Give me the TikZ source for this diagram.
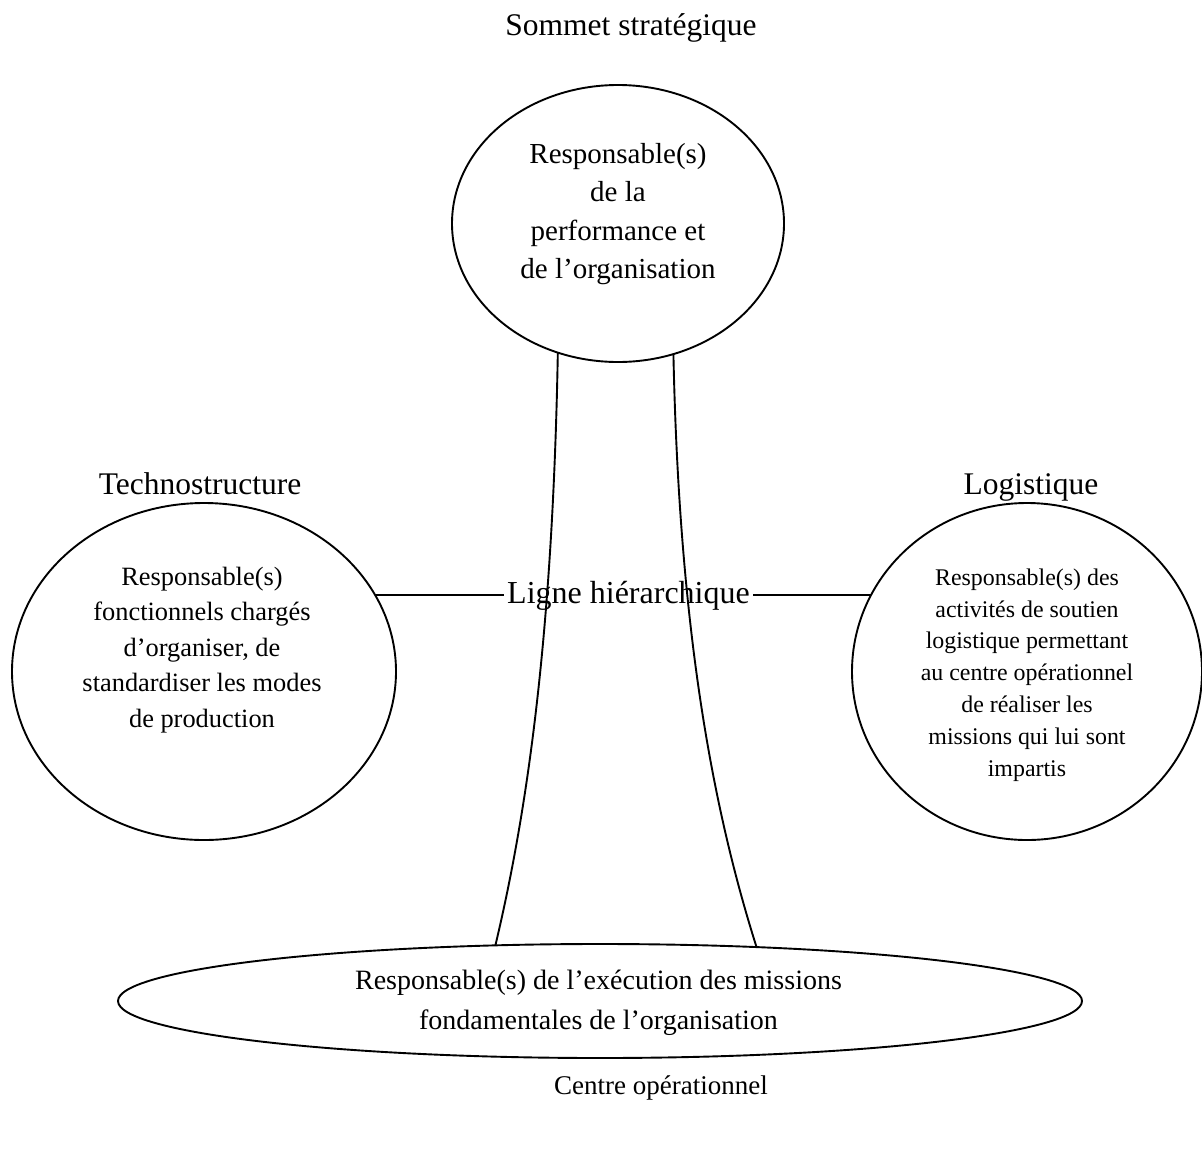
\documentclass[tikz,border=0pt]{standalone}
\usepackage{fontspec}
\setmainfont{Liberation Serif}
\usetikzlibrary{shapes.geometric}
\begin{document}
\begin{tikzpicture}[x=1pt,y=-1pt,line width=1.9pt,
  ell/.style={draw, ellipse, inner sep=0pt, outer sep=0pt},
  title/.style={font=\fontsize{31.5}{38}\selectfont, inner sep=0pt, anchor=base},
  txt/.style={align=center, inner sep=0pt}]
\useasboundingbox (0,0) rectangle (1202,1162);
% ellipses
\node[ell, minimum width=332pt, minimum height=277pt] (top) at (618,223.5) {};
\node[ell, minimum width=384pt, minimum height=337pt] (tech) at (204,671.5) {};
\node[ell, minimum width=350pt, minimum height=337pt] (log) at (1027,671.5) {};
\node[ell, minimum width=964pt, minimum height=114pt] (bot) at (600,1001) {};
% titles
\node[title] (tsom) at (631,35) {Sommet stratégique};
\node[title] (ttech) at (200,494) {Technostructure};
\node[title] (tlog) at (1031,494) {Logistique};
\node[title, font=\fontsize{32}{38}\selectfont, inner sep=2pt] (lig) at (628.5,603) {Ligne hiérarchique};
\node[title, font=\fontsize{27}{38}\selectfont] (tcen) at (661,1094) {Centre opérationnel};
% inner texts
\node[txt, font=\fontsize{29}{38.3}\selectfont] (ctop) at (618,214) {Responsable(s)\\de la\\performance et\\de l’organisation};
\node[txt, font=\fontsize{26.4}{35.5}\selectfont] (ctech) at (202,650) {Responsable(s)\\fonctionnels chargés\\d’organiser, de\\standardiser les modes\\de production};
\node[txt, font=\fontsize{23.9}{31.8}\selectfont] (clog) at (1027,675) {Responsable(s) des\\activités de soutien\\logistique permettant\\au centre opérationnel\\de réaliser les\\missions qui lui sont\\impartis};
\node[txt, font=\fontsize{28}{40}\selectfont] (cbot) at (598.5,1003) {Responsable(s) de l’exécution des missions\\fondamentales de l’organisation};
% ligne hierarchique curves
\draw (top.-115) .. controls (553,620) and (530,800) .. (bot.152);
\draw (top.-67.5) .. controls (679,620) and (710,800) .. (bot.19.6);
% horizontal links
\draw (tech.24.2) -- (tech.24.2 -| lig.west);
\draw (log.154) -- (log.154 -| lig.east);
\end{tikzpicture}
\end{document}
